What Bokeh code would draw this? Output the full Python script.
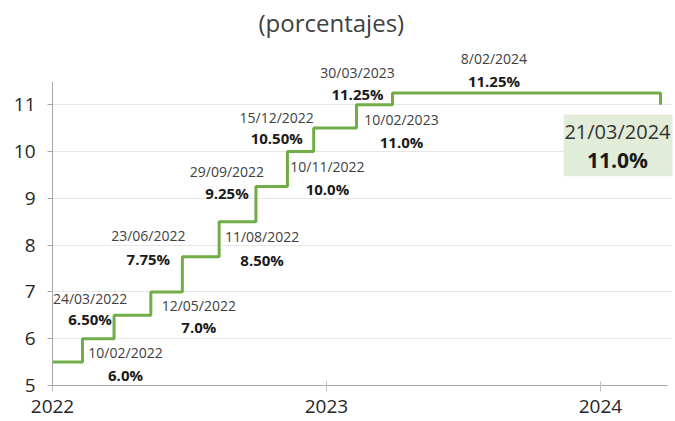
from datetime import datetime
import pandas as pd
from bokeh.plotting import figure
from bokeh.models import ColumnDataSource, LabelSet, BoxAnnotation, FixedTicker
from bokeh.core.properties import value
from bokeh.embed import file_html
from bokeh.resources import INLINE

# ---------------- data ----------------
title_text = "(porcentajes)"
change_dates = ["2022-01-01", "2022-02-10", "2022-03-24", "2022-05-12", "2022-06-23",
                "2022-08-11", "2022-09-29", "2022-11-10", "2022-12-15", "2023-02-10",
                "2023-03-30", "2024-02-08", "2024-03-21"]
rates = [5.5, 6.0, 6.5, 7.0, 7.75, 8.5, 9.25, 10.0, 10.5, 11.0, 11.25, 11.25, 11.0]
date_labels = ["10/02/2022", "24/03/2022", "12/05/2022", "23/06/2022", "11/08/2022",
               "29/09/2022", "10/11/2022", "15/12/2022", "10/02/2023", "30/03/2023",
               "8/02/2024"]
value_labels = ["6.0%", "6.50%", "7.0%", "7.75%", "8.50%", "9.25%", "10.0%",
                "10.50%", "11.0%", "11.25%", "11.25%"]
last_date_label = "21/03/2024"
last_value_label = "11.0%"
year_ticks = ["2022-01-01", "2023-01-01", "2024-01-01"]
year_labels = ["2022", "2023", "2024"]
y_ticks = [5, 6, 7, 8, 9, 10, 11]

# ---------------- label placement (screen px, down = positive) ----------------
lab_dx = [43, -24, 48, -34, 43, -29, 40, -37, 45, -35, -135]
lab_dy_date = [14, -17, 14, -21, 15, -15, 15, -11, 15, -20, -34]
lab_dy_val = [36, 4, 35, 2, 38, 6, 38, 10, 37, 1, -12]

GREEN = "#70ad47"
FONT = "Open Sans"

x = pd.to_datetime(change_dates)
line_src = ColumnDataSource(dict(x=x, y=rates))

lab_src = ColumnDataSource(dict(
    x=x[1:12], y=rates[1:12], d=date_labels, v=value_labels,
    dx=lab_dx, dyd=[-d for d in lab_dy_date], dyv=[-d for d in lab_dy_val]))

last_src = ColumnDataSource(dict(
    x=[x[12]], y=[rates[12]], d=[last_date_label], v=[last_value_label],
    dx=[-43], dyd=[-27], dyv=[-55]))

p = figure(width=675, height=421, x_axis_type="datetime",
           x_range=(pd.Timestamp("2022-01-01"), pd.Timestamp("2024-04-06")),
           y_range=(5, 12.35), output_backend="svg", toolbar_location=None,
           min_border_left=52, min_border_right=3, min_border_top=40,
           min_border_bottom=36)
p.outline_line_color = None
p.background_fill_color = "white"
p.border_fill_color = "white"

# title
p.title.text = title_text
p.title.align = "left"
p.title.offset = 206
p.title.text_font = FONT
p.title.text_font_size = "24px"
p.title.text_font_style = "normal"
p.title.text_color = "#404040"
p.title.standoff = 6

# highlight box for last decision
box = BoxAnnotation(left=x[12] - pd.Timedelta(days=129), right=x[12] + pd.Timedelta(days=17),
                    top=rates[12] - 0.21, bottom=rates[12] - 1.53,
                    fill_color="#e1edd9", fill_alpha=1.0, line_color=None, level="underlay")
p.add_layout(box)

p.step(x="x", y="y", source=line_src, mode="after", line_color=GREEN, line_width=3)

p.add_layout(LabelSet(x="x", y="y", text="d", source=lab_src, x_offset="dx", y_offset="dyd",
                      text_align="center", text_baseline="middle", text_font=value(FONT),
                      text_font_size=value("14px"), text_color="#404040"))
p.add_layout(LabelSet(x="x", y="y", text="v", source=lab_src, x_offset="dx", y_offset="dyv",
                      text_align="center", text_baseline="middle", text_font=value(FONT),
                      text_font_size=value("15px"), text_font_style="bold", text_color="#1a1a1a"))
p.add_layout(LabelSet(x="x", y="y", text="d", source=last_src, x_offset="dx", y_offset="dyd",
                      text_align="center", text_baseline="middle", text_font=value(FONT),
                      text_font_size=value("20px"), text_color="#333333"))
p.add_layout(LabelSet(x="x", y="y", text="v", source=last_src, x_offset="dx", y_offset="dyv",
                      text_align="center", text_baseline="middle", text_font=value(FONT),
                      text_font_size=value("21px"), text_font_style="bold", text_color="#1a1a1a"))

# axes
epoch = datetime(1970, 1, 1)
def to_ms(s):
    return int((datetime.fromisoformat(s) - epoch).total_seconds() * 1000)

tick_ms = [to_ms(t) for t in year_ticks]
p.xaxis.ticker = FixedTicker(ticks=tick_ms)
p.xaxis.major_label_overrides = {t: l for t, l in zip(tick_ms, year_labels)}
p.xaxis.bounds = (to_ms("2022-01-01"), to_ms("2024-03-31"))
p.xaxis.axis_line_color = "#a6a6a6"
p.xaxis.major_tick_line_color = "#bfbfbf"
p.xaxis.major_tick_in = 4
p.xaxis.major_tick_out = 6
p.xaxis.minor_tick_line_color = None
p.xaxis.major_label_text_font = FONT
p.xaxis.major_label_text_font_size = "19px"
p.xaxis.major_label_text_color = "#262626"
p.xaxis.major_label_standoff = 8

p.yaxis.ticker = FixedTicker(ticks=y_ticks)
p.yaxis.bounds = (5, 11.5)
p.yaxis.axis_line_color = "#a6a6a6"
p.yaxis.major_tick_line_color = "#a6a6a6"
p.yaxis.major_tick_in = 0
p.yaxis.major_tick_out = 5
p.yaxis.minor_tick_line_color = None
p.yaxis.major_label_text_font = FONT
p.yaxis.major_label_text_font_size = "19px"
p.yaxis.major_label_text_color = "#262626"
p.yaxis.major_label_standoff = 12

p.xgrid.grid_line_color = None
p.ygrid.ticker = FixedTicker(ticks=y_ticks[1:])
p.ygrid.grid_line_color = "#e6e6e6"
p.ygrid.grid_line_width = 1

open("out.html", "w").write(file_html(p, INLINE))
